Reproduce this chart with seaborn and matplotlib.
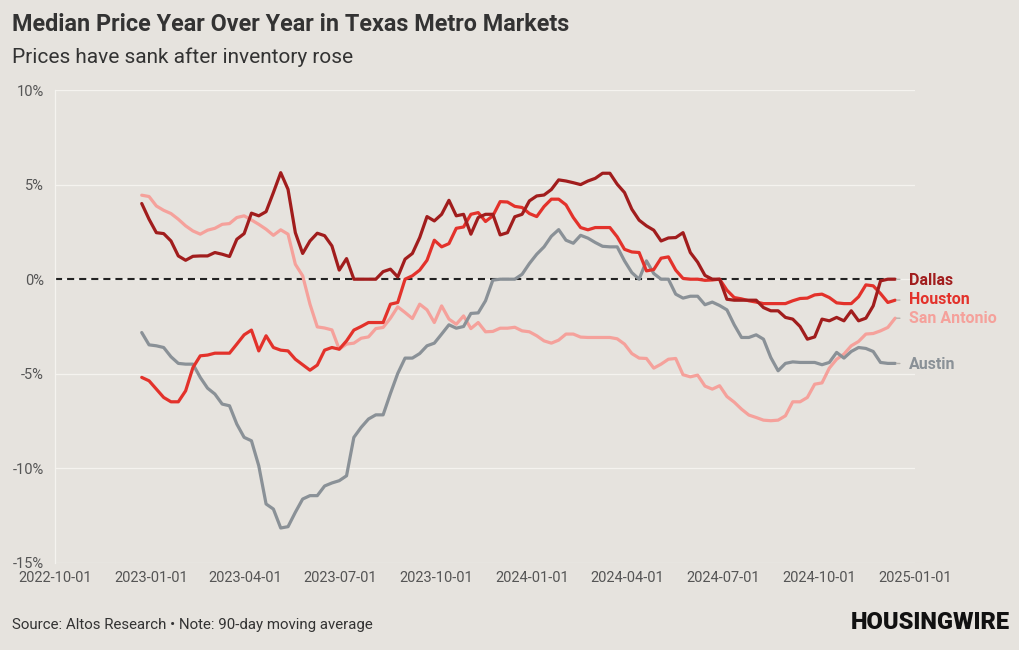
import pandas as pd
import numpy as np
import matplotlib
matplotlib.use("Agg")
import matplotlib.pyplot as plt
import seaborn as sns

# weekly 90-day moving average of median price, year over year (%)
dates = pd.date_range("2022-12-23", periods=104, freq="7D")

dallas = [4.0, 3.17, 2.46, 2.41, 2.02, 1.23, 1.0, 1.21, 1.23, 1.23, 1.41, 1.32, 1.2,
          2.11, 2.41, 3.49, 3.35, 3.57, 4.58, 5.63, 4.75, 2.46, 1.36, 2.02, 2.43, 2.3,
          1.76, 0.48, 1.09, 0, 0, 0, 0, 0.4, 0.53, 0.12, 1.06, 1.36, 2.2,
          3.31, 3.08, 3.43, 4.17, 3.35, 3.43, 2.38, 3.26, 3.43, 3.43, 2.34, 2.46, 3.3,
          3.43, 4.14, 4.4, 4.45, 4.74, 5.25, 5.19, 5.1, 5.0, 5.19, 5.33, 5.6, 5.6,
          5.02, 4.58, 3.7, 3.12, 2.82, 2.59, 2.02, 2.18, 2.2, 2.46, 1.41, 0.9, 0.2,
          0, 0, -1.06, -1.11, -1.11, -1.11, -1.11, -1.5, -1.67, -1.67, -2.02, -2.11, -2.5,
          -3.17, -3.05, -2.11, -2.2, -2.02, -2.2, -1.67, -2.2, -2.06, -1.41, -0.09, 0, 0]

houston = [-5.19, -5.37, -5.81, -6.25, -6.48, -6.48, -5.9, -4.67, -4.05, -4.01, -3.91, -3.91, -3.91,
           -3.43, -2.94, -2.69, -3.79, -2.99, -3.61, -3.75, -3.79, -4.23, -4.52, -4.81, -4.54, -3.75,
           -3.61, -3.7, -3.26, -2.69, -2.5, -2.29, -2.29, -2.29, -1.32, -1.23, 0, 0.18, 0.48,
           1.0, 2.06, 1.71, 1.88, 2.69, 2.76, 3.43, 3.52, 3.05, 3.35, 4.1, 4.08, 3.85,
           3.79, 3.47, 3.31, 3.84, 4.23, 4.23, 3.93, 3.26, 2.73, 2.61, 2.73, 2.73, 2.73,
           2.24, 1.58, 1.44, 1.41, 0.44, 0.51, 1.11, 1.18, 0.48, 0.04, 0, 0, -0.06,
           -0.04, 0, -0.58, -0.97, -1.04, -1.14, -1.21, -1.29, -1.29, -1.29, -1.29, -1.14, -1.02,
           -1.0, -0.83, -0.79, -0.97, -1.25, -1.29, -1.29, -0.93, -0.3, -0.35, -0.76, -1.23, -1.11]

san_antonio = [4.44, 4.37, 3.87, 3.64, 3.47, 3.17, 2.82, 2.55, 2.38, 2.59, 2.69, 2.9, 2.94,
               3.26, 3.35, 3.13, 2.9, 2.64, 2.32, 2.61, 2.38, 0.79, 0.18, -1.32, -2.52, -2.58,
               -2.68, -3.7, -3.43, -3.38, -3.12, -3.05, -2.61, -2.55, -2.06, -1.46, -1.76, -2.08, -1.32,
               -1.62, -2.29, -1.41, -2.11, -2.38, -1.94, -2.61, -2.29, -2.78, -2.76, -2.59, -2.59, -2.54,
               -2.73, -2.78, -2.99, -3.26, -3.38, -3.22, -2.9, -2.9, -3.06, -3.08, -3.08, -3.08, -3.08,
               -3.15, -3.43, -3.93, -4.17, -4.19, -4.7, -4.49, -4.23, -4.19, -5.05, -5.16, -5.07, -5.65,
               -5.81, -5.63, -6.2, -6.5, -6.87, -7.18, -7.31, -7.45, -7.48, -7.45, -7.22, -6.48, -6.48,
               -6.25, -5.55, -5.48, -4.7, -4.23, -3.96, -3.52, -3.29, -2.9, -2.87, -2.73, -2.55, -2.06]

austin = [-2.82, -3.47, -3.52, -3.61, -4.1, -4.45, -4.49, -4.49, -5.19, -5.76, -6.07, -6.6, -6.69,
          -7.66, -8.36, -8.54, -9.86, -11.88, -12.15, -13.15, -13.08, -12.32, -11.62, -11.44, -11.44, -10.93,
          -10.77, -10.65, -10.39, -8.36, -7.83, -7.39, -7.17, -7.17, -6.04, -4.98, -4.17, -4.17, -3.93,
          -3.52, -3.38, -2.9, -2.41, -2.59, -2.5, -1.81, -1.78, -1.14, -0.05, 0, 0, 0,
          0.26, 0.83, 1.32, 1.71, 2.27, 2.62, 2.06, 1.9, 2.32, 2.17, 1.94, 1.74, 1.71,
          1.71, 0.97, 0.35, 0, 0.97, 0.3, 0, 0, -0.79, -1.0, -0.9, -0.9, -1.35,
          -1.21, -1.39, -1.62, -2.41, -3.08, -3.08, -2.94, -3.17, -4.14, -4.84, -4.45, -4.37, -4.4,
          -4.4, -4.4, -4.52, -4.4, -3.87, -4.17, -3.82, -3.61, -3.66, -3.82, -4.4, -4.45, -4.45]

metros = ["Dallas", "Houston", "San Antonio", "Austin"]
colors = ["#a11d1d", "#e3322b", "#f5a19b", "#8a9197"]
label_y = [-0.05, -1.05, -2.1, -4.5]

yticks = [10, 5, 0, -5, -10, -15]
xticks = pd.to_datetime(["2022-10-01", "2023-01-01", "2023-04-01", "2023-07-01", "2023-10-01",
                         "2024-01-01", "2024-04-01", "2024-07-01", "2024-10-01", "2025-01-01"])

df = pd.DataFrame({
    "date": np.tile(dates, 4),
    "metro": np.repeat(metros, len(dates)),
    "yoy": dallas + houston + san_antonio + austin,
})

bg = "#e6e3de"
sns.set_theme(style="white", rc={"axes.facecolor": bg, "figure.facecolor": bg})
plt.rcParams["font.family"] = ["Roboto", "DejaVu Sans"]

fig = plt.figure(figsize=(10.2, 6.5), dpi=100)
ax = fig.add_axes([55 / 1020, 87 / 650, 860 / 1020, 473 / 650])

for y in yticks:
    ax.axhline(y, color="#f5f3ef", lw=0.9, zorder=0)
ax.hlines(0, xticks[0], dates[-1], color="#222222", lw=1.5, linestyle=(0, (3.4, 2.4)), zorder=1)

# draw back to front
order = ["San Antonio", "Austin", "Houston", "Dallas"]
palette = dict(zip(metros, colors))
sns.lineplot(data=df, x="date", y="yoy", hue="metro", hue_order=order, palette=palette,
             linewidth=2.3, legend=False, ax=ax, zorder=3)
for ln in ax.get_lines():
    ln.set_solid_joinstyle("round")
    ln.set_solid_capstyle("round")

for name, col, ly in zip(metros, colors, label_y):
    last = df.loc[df.metro == name, "yoy"].iloc[-1]
    ax.annotate(name, xy=(dates[-1], last), xytext=(dates[-1] + pd.Timedelta(days=13), ly),
                textcoords="data", color=col, fontsize=11.5, fontweight="bold",
                va="center", ha="left", annotation_clip=False,
                arrowprops=dict(arrowstyle="-", color="#b5b2ad", lw=1, shrinkA=4, shrinkB=1))

ax.set_xlim(xticks[0], xticks[-1])
ax.set_ylim(-15, 10)
ax.set_yticks(yticks)
ax.set_yticklabels([f"{v}%" for v in yticks])
ax.set_xticks(xticks)
ax.set_xticklabels([d.strftime("%Y-%m-%d") for d in xticks])
ax.tick_params(axis="both", length=0, labelsize=10.5, labelcolor="#555555")
ax.tick_params(axis="y", pad=8)
ax.tick_params(axis="x", pad=6)
ax.set_xlabel("")
ax.set_ylabel("")
for s in ["top", "right", "bottom"]:
    ax.spines[s].set_visible(False)
ax.spines["left"].set_color("#f5f3ef")
ax.spines["left"].set_linewidth(0.9)

fig.text(12 / 1020, 1 - 31 / 650, "Median Price Year Over Year in Texas Metro Markets",
         fontsize=16.8, fontweight="bold", color="#333333", va="baseline", ha="left")
fig.text(12 / 1020, 1 - 63 / 650, "Prices have sank after inventory rose",
         fontsize=15, color="#333333", va="baseline", ha="left")
fig.text(12 / 1020, 1 - 629 / 650, "Source: Altos Research \u2022 Note: 90-day moving average",
         fontsize=10.8, color="#333333", va="baseline", ha="left")
fig.text(1010 / 1020, 1 - 629 / 650, "HOUSINGWIRE", fontsize=17, fontweight="heavy",
         color="#111111", va="baseline", ha="right",
         family=["Liberation Sans Narrow", "Roboto", "DejaVu Sans"])

fig.savefig("out.png", dpi=100, facecolor=bg)
